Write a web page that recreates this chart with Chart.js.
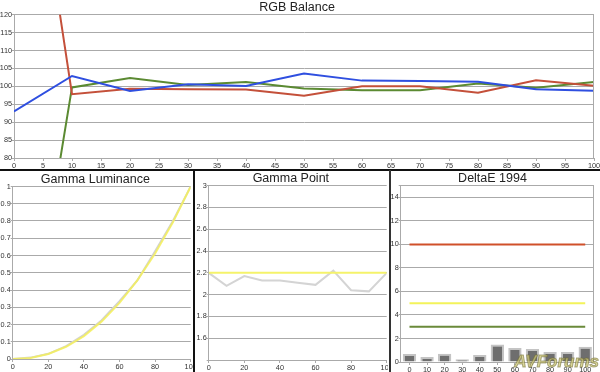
<!DOCTYPE html>
<html><head><meta charset="utf-8">
<script src="https://cdn.jsdelivr.net/npm/chart.js@4"></script>
<style>
html,body{margin:0;padding:0;background:#fff;width:600px;height:372px;overflow:hidden;}
.p{position:absolute;}
.p canvas{display:block;}
.sep{position:absolute;}
</style></head><body>
<div class="p" style="left:0;top:0;width:600px;height:168px"><canvas id="c1" width="600" height="168"></canvas></div>
<div class="p" style="left:0;top:171px;width:193px;height:201px"><canvas id="c2" width="193" height="201"></canvas></div>
<div class="p" style="left:195px;top:171px;width:193px;height:201px"><canvas id="c3" width="193" height="201"></canvas></div>
<div class="p" style="left:391px;top:171px;width:209px;height:201px"><canvas id="c4" width="209" height="201"></canvas></div>
<div class="sep" style="left:0;top:169px;width:600px;height:2px;background:#111"></div>
<div class="sep" style="left:193px;top:170px;width:2px;height:202px;background:#111"></div>
<div class="sep" style="left:389px;top:170px;width:2px;height:202px;background:#333"></div>
<script>
// ---- data ----
const rgbSteps = [0, 10, 20, 30, 40, 50, 60, 70, 80, 90, 100];
const redBalance = [205, 97.8, 99.3, 99.2, 99.1, 97.4, 100.0, 100.0, 98.2, 101.7, 100.2];
const greenBalance = [1, 99.7, 102.3, 100.4, 101.2, 99.4, 98.9, 98.9, 100.8, 99.6, 101.2];
const blueBalance = [93, 102.9, 98.7, 100.6, 100.1, 103.6, 101.6, 101.5, 101.3, 99.2, 98.8];

const gammaSteps = [0, 10, 20, 30, 40, 50, 60, 70, 80, 90, 100];
const lumMeasured = [0, 0.008, 0.03, 0.075, 0.14, 0.225, 0.335, 0.455, 0.625, 0.80, 1];
const lumTarget = [0, 0.006, 0.029, 0.071, 0.133, 0.218, 0.325, 0.456, 0.612, 0.793, 1];
const gammaMeasured = [2.2, 2.08, 2.17, 2.13, 2.13, 2.11, 2.09, 2.22, 2.04, 2.03, 2.2];
const gammaTarget = [2.2, 2.2, 2.2, 2.2, 2.2, 2.2, 2.2, 2.2, 2.2, 2.2, 2.2];

const deltaCats = ['0', '10', '20', '30', '40', '50', '60', '70', '80', '90', '100'];
const deltaE = [0.69, 0.43, 0.71, 0.23, 0.6, 1.49, 1.2, 1.11, 0.86, 0.86, 1.29];
const limitRed = [10, 10, 10, 10, 10, 10, 10, 10, 10, 10, 10];
const limitYellow = [5, 5, 5, 5, 5, 5, 5, 5, 5, 5, 5];
const limitGreen = [3, 3, 3, 3, 3, 3, 3, 3, 3, 3, 3];

// ---- helpers ----
Chart.defaults.font.family = "'Liberation Sans', Arial, sans-serif";
Chart.defaults.font.size = 7.3;
Chart.defaults.color = '#333';
Chart.defaults.animation = false;
const GRID = '#aaaaaa';
const pts = (xs, ys) => xs.map((x, i) => ({x: x, y: ys[i]}));
const fixY = w => s => { s.width = w; s.paddingTop = 0; s.paddingBottom = 0; };
const fixX = h => s => { s.height = h; s.paddingLeft = 0; s.paddingRight = 0; };
const fmt = v => String(+(+v).toFixed(2));
const titleOpt = (t, top) => ({display: true, text: t, color: '#222',
  font: {size: 12.5, weight: 'normal', lineHeight: '14px'}, padding: {top: top, bottom: 0}});
const rightBorder = {id: 'rb', afterDraw(c) {
  const a = c.chartArea, ctx = c.ctx; const x = Math.round(a.right) - 0.5;
  ctx.save(); ctx.strokeStyle = GRID; ctx.lineWidth = 1; ctx.beginPath();
  ctx.moveTo(x, a.top); ctx.lineTo(x, a.bottom); ctx.stroke(); ctx.restore(); }};
const watermark = {id: 'wm', afterDraw(c) {
  const ctx = c.ctx; ctx.save();
  ctx.font = "italic bold 17px 'Liberation Sans', Arial, sans-serif";
  ctx.textAlign = 'right'; ctx.textBaseline = 'alphabetic';
  ctx.fillStyle = 'rgba(205,200,120,0.75)'; ctx.strokeStyle = 'rgba(110,105,50,0.55)'; ctx.lineWidth = 1;
  ctx.fillText('AVForums', 208, 196); ctx.strokeText('AVForums', 208, 196); ctx.restore(); }};
const lineDs = (data, color, w) => ({data: data, borderColor: color, backgroundColor: color, borderWidth: w || 2, pointRadius: 0, tension: 0, fill: false});
const baseOpts = (title, titleTop, pad) => ({responsive: false, animation: false,
  layout: {padding: pad},
  plugins: {legend: {display: false}, tooltip: {enabled: false}, title: titleOpt(title, titleTop)}});
const yTicks = extra => Object.assign({padding: 0}, extra || {});
const yGrid = {color: GRID, tickLength: 2};

// ---- RGB Balance ----
const o1 = baseOpts('RGB Balance', 0.7, {left: 0, right: 6, top: 0, bottom: 0});
o1.scales = {
  x: {type: 'linear', min: 0, max: 100, afterFit: fixX(10),
      ticks: {stepSize: 5, autoSkip: false, maxRotation: 0, padding: 1},
      grid: {drawOnChartArea: false, tickLength: 3, color: GRID}, border: {color: GRID}},
  y: {type: 'linear', min: 80, max: 120, afterFit: fixY(14),
      ticks: yTicks({stepSize: 5}), grid: yGrid, border: {color: GRID}}
};
new Chart(document.getElementById('c1'), {type: 'line',
  data: {datasets: [
    lineDs(pts(rgbSteps, blueBalance), '#2f4fe0'),
    lineDs(pts(rgbSteps, redBalance), '#c4503a'),
    lineDs(pts(rgbSteps, greenBalance), '#5b8a32')
  ]}, options: o1, plugins: [rightBorder]});

// ---- Gamma Luminance ----
const o2 = baseOpts('Gamma Luminance', 1.5, {left: 0, right: 2.3, top: 0, bottom: 0});
o2.scales = {
  x: {type: 'linear', min: 0, max: 100, afterFit: fixX(13),
      ticks: {stepSize: 20, autoSkip: false, maxRotation: 0, padding: 1},
      grid: {drawOnChartArea: false, tickLength: 3, color: GRID}, border: {color: GRID}},
  y: {type: 'linear', min: 0, max: 1, afterFit: fixY(12.7),
      ticks: yTicks({stepSize: 0.1, callback: fmt}), grid: yGrid, border: {color: GRID}}
};
new Chart(document.getElementById('c2'), {type: 'line',
  data: {datasets: [
    lineDs(pts(gammaSteps, lumTarget), 'rgba(245,240,90,0.85)'),
    lineDs(pts(gammaSteps, lumMeasured), '#d2d2d2')
  ]}, options: o2});

// ---- Gamma Point ----
const o3 = baseOpts('Gamma Point', 0.7, {left: 0, right: 1.3, top: 0, bottom: 0});
o3.scales = {
  x: {type: 'linear', min: 0, max: 100, afterFit: fixX(12),
      ticks: {stepSize: 20, autoSkip: false, maxRotation: 0, padding: 1},
      grid: {drawOnChartArea: false, tickLength: 3, color: GRID}, border: {color: GRID}},
  y: {type: 'linear', min: 1.4, max: 3, afterFit: fixY(13.7),
      ticks: yTicks({stepSize: 0.2, callback: v => (Math.abs(v - 1.4) < 1e-6 ? '' : fmt(v))}),
      grid: yGrid, border: {color: GRID}}
};
new Chart(document.getElementById('c3'), {type: 'line',
  data: {datasets: [
    lineDs(pts(gammaSteps, gammaTarget), '#f5f36a'),
    lineDs(pts(gammaSteps, gammaMeasured), '#d4d4d4')
  ]}, options: o3});

// ---- DeltaE 1994 ----
const o4 = baseOpts('DeltaE 1994', 0.7, {left: 0, right: 6, top: 0, bottom: 0});
o4.scales = {
  x: {type: 'category', afterFit: fixX(10), offset: true,
      ticks: {autoSkip: false, maxRotation: 0, padding: 1},
      grid: {drawOnChartArea: false, offset: false, tickLength: 3, color: GRID}, border: {color: GRID}},
  y: {type: 'linear', min: 0, max: 15, afterFit: fixY(9.7),
      ticks: yTicks({stepSize: 2, callback: v => (v === 15 ? '' : fmt(v))}),
      grid: yGrid, border: {color: GRID}}
};
new Chart(document.getElementById('c4'), {type: 'bar',
  data: {labels: deltaCats, datasets: [
    Object.assign(lineDs(limitRed, '#d0502a'), {type: 'line'}),
    Object.assign(lineDs(limitYellow, '#f3f35a'), {type: 'line'}),
    Object.assign(lineDs(limitGreen, '#6a8a3a'), {type: 'line'}),
    {type: 'bar', data: deltaE, backgroundColor: '#6e6e6e', borderColor: '#c4c4c4', borderWidth: 2,
     categoryPercentage: 0.8, barPercentage: 0.95}
  ]}, options: o4, plugins: [rightBorder, watermark]});
</script>
</body></html>
